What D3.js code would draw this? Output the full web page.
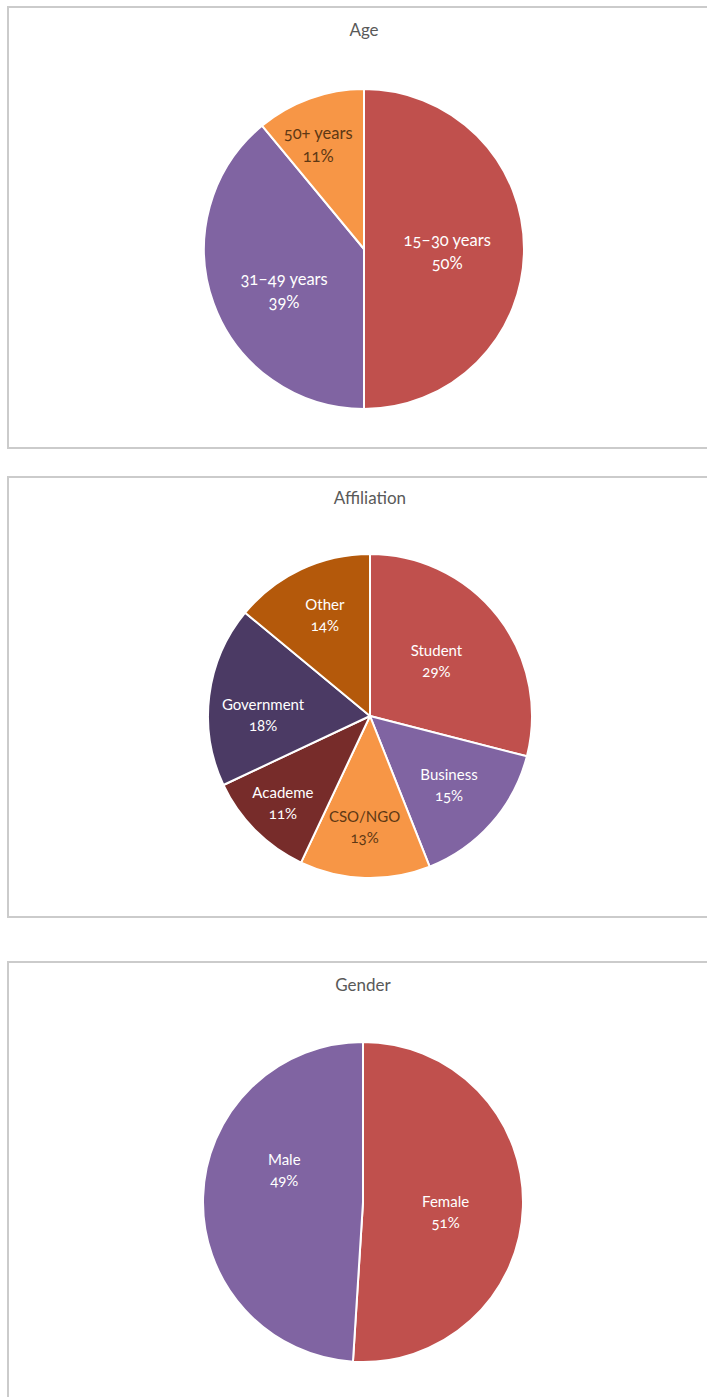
<!DOCTYPE html>
<html>
<head>
<meta charset="utf-8">
<script src="https://cdn.jsdelivr.net/npm/d3@7"></script>
<style>
  html, body { margin: 0; padding: 0; background: #fff; }
  svg { display: block; }
  text { font-family: Lato, "Open Sans", sans-serif; font-variant-numeric: oldstyle-nums; }
</style>
</head>
<body>
<svg id="chart" width="707" height="1397"></svg>
<script>
// ---- data ----
const ageCategories = ["15–30 years", "31–49 years", "50+ years"];
const ageValues = [50, 39, 11];

const affiliationCategories = ["Student", "Business", "CSO/NGO", "Academe", "Government", "Other"];
const affiliationValues = [29, 15, 13, 11, 18, 14];

const genderCategories = ["Female", "Male"];
const genderValues = [51, 49];

// ---- styling and layout ----
const sliceColors = {
  "15–30 years": "#C0504D", "31–49 years": "#8064A2", "50+ years": "#F79646",
  "Student": "#C0504D", "Business": "#8064A2", "CSO/NGO": "#F79646",
  "Academe": "#772C2A", "Government": "#4B3A64", "Other": "#B4590B",
  "Female": "#C0504D", "Male": "#8064A2"
};
const darkLabel = new Set(["50+ years", "CSO/NGO"]);

// label placement per slice: [radius fraction, angle offset in degrees from slice middle]
const ageLabelPos = [[0.52, 2], [0.565, -8], [0.71, -4]];
const affiliationLabelPos = [[0.53, -1.5], [0.65, 0], [0.69, 1], [0.76, 0], [0.66, -7], [0.68, 1]];
const genderLabelPos = [[0.52, 5], [0.53, 20]];

const panels = [
  { title: "Age", cats: ageCategories, vals: ageValues, labelPos: ageLabelPos, fontSize: 16.5,
    box: [8, 7, 720, 441], cx: 364, cy: 249, r: 160, titleY: 36 },
  { title: "Affiliation", cats: affiliationCategories, vals: affiliationValues, labelPos: affiliationLabelPos, fontSize: 15,
    box: [8, 477, 720, 440], cx: 370, cy: 716, r: 162, titleY: 504 },
  { title: "Gender", cats: genderCategories, vals: genderValues, labelPos: genderLabelPos, fontSize: 15,
    box: [8, 962, 720, 460], cx: 363, cy: 1202, r: 160, titleY: 991 }
];

const svg = d3.select("#chart");

panels.forEach(p => {
  const [bx, by, bw, bh] = p.box;
  svg.append("rect")
    .attr("x", bx).attr("y", by).attr("width", bw).attr("height", bh)
    .attr("fill", "#fff").attr("stroke", "#cbcbcb").attr("stroke-width", 2);

  svg.append("text")
    .attr("x", p.cx).attr("y", p.titleY)
    .attr("text-anchor", "middle")
    .attr("fill", "#595959")
    .attr("font-size", 17)
    .text(p.title);

  const rows = p.cats.map((c, i) => ({ cat: c, value: p.vals[i], idx: i }));
  const pie = d3.pie().sort(null).value(d => d.value);
  const arcs = pie(rows);
  const arc = d3.arc().innerRadius(0).outerRadius(p.r);

  const g = svg.append("g").attr("transform", `translate(${p.cx},${p.cy})`);

  g.selectAll("path")
    .data(arcs)
    .join("path")
    .attr("d", arc)
    .attr("fill", d => sliceColors[d.data.cat])
    .attr("stroke", "#fff")
    .attr("stroke-width", 2)
    .attr("stroke-linejoin", "round");

  const lbl = g.selectAll("g.lbl")
    .data(arcs)
    .join("g")
    .attr("class", "lbl")
    .attr("transform", d => {
      const [frac, off] = p.labelPos[d.data.idx];
      const a = (d.startAngle + d.endAngle) / 2 + off * Math.PI / 180;
      const rr = frac * p.r;
      return `translate(${Math.sin(a) * rr},${-Math.cos(a) * rr})`;
    });

  const half = p.fontSize * 0.7;
  lbl.append("text")
    .attr("text-anchor", "middle")
    .attr("y", -half + p.fontSize * 0.35)
    .attr("font-size", p.fontSize)
    .attr("fill", d => darkLabel.has(d.data.cat) ? "#5e3814" : "#ffffff")
    .text(d => d.data.cat);

  lbl.append("text")
    .attr("text-anchor", "middle")
    .attr("y", half + p.fontSize * 0.35)
    .attr("font-size", p.fontSize)
    .attr("fill", d => darkLabel.has(d.data.cat) ? "#5e3814" : "#ffffff")
    .text(d => d.data.value + "%");
});
</script>
</body>
</html>
